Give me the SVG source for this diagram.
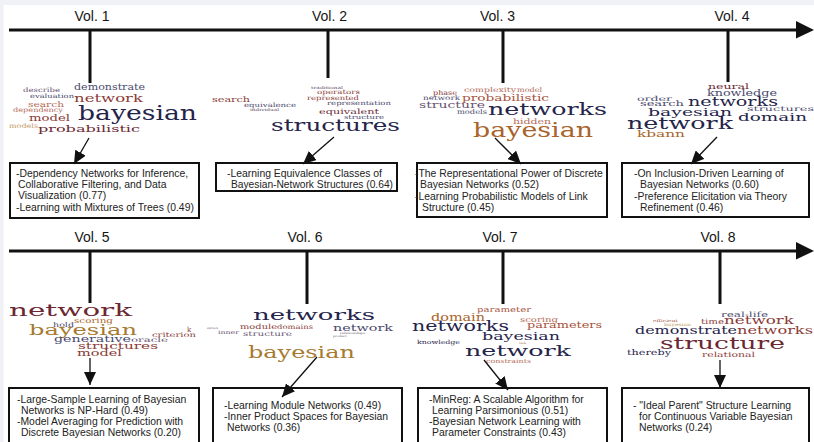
<svg xmlns="http://www.w3.org/2000/svg" width="814" height="442" viewBox="0 0 814 442">
  <style>
    .axis { stroke: #111; stroke-width: 3; fill: none; }
    .stem { stroke: #111; stroke-width: 3; }
    .tip { fill: #111; }
    .ptr { stroke: #111; stroke-width: 1.3; fill: none; marker-end: url(#head); }
    .box { fill: #fff; stroke: #111; stroke-width: 2; }
    .vol { font-family: "Liberation Sans", Arial, sans-serif; font-size: 14px; fill: #151515; text-anchor: middle; }
    .ref { font-family: "Liberation Sans", Arial, sans-serif; font-size: 10.4px; fill: #222; }
    .w { font-family: "DejaVu Serif", "Liberation Serif", serif; }
    .c1 { fill: #25244a; }
    .c2 { fill: #4a4a6c; }
    .c3 { fill: #6a5472; }
    .c4 { fill: #6b2832; }
    .c5 { fill: #8a3b36; }
    .c6 { fill: #a5523b; }
    .c7 { fill: #a9642c; }
    .c8 { fill: #a67a30; }
    .c9 { fill: #b46b57; }
    .c10 { fill: #bf9a66; }
  </style>
  <defs>
    <marker id="head" markerUnits="userSpaceOnUse" markerWidth="13" markerHeight="12" refX="13" refY="6" orient="auto">
      <path d="M0,0 L13,6 L0,12 z" fill="#111"/>
    </marker>
  </defs>

  <!-- page -->
  <rect x="0" y="0" width="814" height="442" fill="#f0f1f6"/>
  <rect x="3.5" y="5" width="811" height="437" fill="#fff"/>

  <!-- timelines -->
  <g id="timeline">
    <line class="axis" x1="9" y1="30" x2="797" y2="30"/>
    <polygon class="tip" points="796,21 814,30 796,38.5"/>
    <line class="axis" x1="9" y1="251" x2="797" y2="251"/>
    <polygon class="tip" points="796,242 814,251 796,259.5"/>
  </g>

  <!-- Vol. 1 -->
  <g id="vol1">
    <text class="vol" x="92" y="21">Vol. 1</text>
    <line class="stem" x1="90" y1="30" x2="90" y2="83"/>
    <text class="w c3" x="23" y="92" font-size="6.3" textLength="37" lengthAdjust="spacingAndGlyphs">describe</text>
    <text class="w c2" x="30" y="98" font-size="6" textLength="44" lengthAdjust="spacingAndGlyphs">evaluation</text>
    <text class="w c2" x="74" y="90" font-size="8.8" textLength="71" lengthAdjust="spacingAndGlyphs">demonstrate</text>
    <text class="w c5" x="74" y="101.5" font-size="10.5" textLength="69" lengthAdjust="spacingAndGlyphs">network</text>
    <text class="w c9" x="28" y="107" font-size="8" textLength="36" lengthAdjust="spacingAndGlyphs">search</text>
    <text class="w c9" x="13" y="112" font-size="6.4" textLength="50" lengthAdjust="spacingAndGlyphs">dependency</text>
    <text class="w c1" x="78" y="120" font-size="20.7" textLength="119" lengthAdjust="spacingAndGlyphs">bayesian</text>
    <text class="w c5" x="29" y="121" font-size="9.5" textLength="41" lengthAdjust="spacingAndGlyphs">model</text>
    <text class="w c10" x="9" y="128" font-size="6.4" textLength="29" lengthAdjust="spacingAndGlyphs">models</text>
    <text class="w c4" x="38" y="132" font-size="9.7" textLength="102" lengthAdjust="spacingAndGlyphs">probabilistic</text>
    <rect class="box" x="10" y="163" width="189" height="55"/>
    <text class="ref" x="16" y="177">-Dependency Networks for Inference,</text>
    <text class="ref" x="18" y="188">Collaborative Filtering, and Data</text>
    <text class="ref" x="18" y="199">Visualization (0.77)</text>
    <text class="ref" x="16" y="210.5">-Learning with Mixtures of Trees (0.49)</text>
  </g>

  <!-- Vol. 2 -->
  <g id="vol2">
    <text class="vol" x="329.5" y="21">Vol. 2</text>
    <line class="stem" x1="328" y1="30" x2="328" y2="78"/>
    <text class="w c3" x="311" y="89" font-size="4" textLength="32" lengthAdjust="spacingAndGlyphs">traditional</text>
    <text class="w c5" x="317" y="94" font-size="6.2" textLength="43" lengthAdjust="spacingAndGlyphs">operators</text>
    <text class="w c5" x="307" y="99.5" font-size="6.2" textLength="52" lengthAdjust="spacingAndGlyphs">represented</text>
    <text class="w c2" x="327" y="105" font-size="6" textLength="64" lengthAdjust="spacingAndGlyphs">representation</text>
    <text class="w c5" x="212" y="102" font-size="7.6" textLength="38" lengthAdjust="spacingAndGlyphs">search</text>
    <text class="w c2" x="244" y="107" font-size="6" textLength="52" lengthAdjust="spacingAndGlyphs">equivalence</text>
    <text class="w c3" x="250" y="111" font-size="4" textLength="29" lengthAdjust="spacingAndGlyphs">individual</text>
    <text class="w c4" x="319" y="114" font-size="7.2" textLength="60" lengthAdjust="spacingAndGlyphs">equivalent</text>
    <text class="w c2" x="344" y="119" font-size="5.8" textLength="40" lengthAdjust="spacingAndGlyphs">structure</text>
    <text class="w c1" x="271" y="131" font-size="17" textLength="129" lengthAdjust="spacingAndGlyphs">structures</text>
    <rect class="box" x="216" y="163" width="181" height="28"/>
    <text class="ref" x="227" y="177" textLength="155" lengthAdjust="spacingAndGlyphs">-Learning Equivalence Classes of</text>
    <text class="ref" x="231" y="188" textLength="162" lengthAdjust="spacingAndGlyphs">Bayesian-Network Structures (0.64)</text>
  </g>

  <!-- Vol. 3 -->
  <g id="vol3">
    <text class="vol" x="497.5" y="21">Vol. 3</text>
    <line class="stem" x1="503" y1="30" x2="503" y2="83"/>
    <text class="w c9" x="464" y="92" font-size="6.6" textLength="52" lengthAdjust="spacingAndGlyphs">complexity</text>
    <text class="w c9" x="517" y="92" font-size="6.6" textLength="25" lengthAdjust="spacingAndGlyphs">model</text>
    <text class="w c5" x="433" y="95" font-size="6.6" textLength="24" lengthAdjust="spacingAndGlyphs">phase</text>
    <text class="w c2" x="423" y="100" font-size="6.4" textLength="37" lengthAdjust="spacingAndGlyphs">network</text>
    <text class="w c6" x="462" y="101" font-size="8.8" textLength="87" lengthAdjust="spacingAndGlyphs">probabilistic</text>
    <text class="w c3" x="419" y="108" font-size="8.8" textLength="66" lengthAdjust="spacingAndGlyphs">structure</text>
    <text class="w c2" x="457" y="114" font-size="6.6" textLength="30" lengthAdjust="spacingAndGlyphs">models</text>
    <text class="w c1" x="488" y="114.5" font-size="16" textLength="119" lengthAdjust="spacingAndGlyphs">networks</text>
    <text class="w c9" x="513" y="123.5" font-size="7.6" textLength="38" lengthAdjust="spacingAndGlyphs">hidden</text>
    <text class="w c7" x="473" y="137" font-size="19.7" textLength="120" lengthAdjust="spacingAndGlyphs">bayesian</text>
    <rect class="box" x="417" y="163" width="190" height="54"/>
    <text class="ref" x="415" y="176.5">-The Representational Power of Discrete</text>
    <text class="ref" x="420" y="188">Bayesian Networks (0.52)</text>
    <text class="ref" x="415" y="200">-Learning Probabilistic Models of Link</text>
    <text class="ref" x="422" y="211">Structure (0.45)</text>
  </g>

  <!-- Vol. 4 -->
  <g id="vol4">
    <text class="vol" x="732" y="21">Vol. 4</text>
    <line class="stem" x1="728" y1="30" x2="728" y2="82"/>
    <text class="w c4" x="708" y="88.5" font-size="7.5" textLength="41" lengthAdjust="spacingAndGlyphs">neural</text>
    <text class="w c2" x="707" y="95.5" font-size="8.3" textLength="70" lengthAdjust="spacingAndGlyphs">knowledge</text>
    <text class="w c2" x="637" y="100.5" font-size="6.8" textLength="35" lengthAdjust="spacingAndGlyphs">order</text>
    <text class="w c2" x="640" y="106" font-size="7.5" textLength="44" lengthAdjust="spacingAndGlyphs">search</text>
    <text class="w c1" x="688" y="106" font-size="12.3" textLength="90" lengthAdjust="spacingAndGlyphs">networks</text>
    <text class="w c2" x="747" y="111" font-size="6.8" textLength="67" lengthAdjust="spacingAndGlyphs">structures</text>
    <text class="w c1" x="648" y="115.5" font-size="11.2" textLength="84" lengthAdjust="spacingAndGlyphs">bayesian</text>
    <text class="w c1" x="738" y="120.5" font-size="11.8" textLength="69" lengthAdjust="spacingAndGlyphs">domain</text>
    <text class="w c1" x="627" y="128.5" font-size="16.5" textLength="106" lengthAdjust="spacingAndGlyphs">network</text>
    <text class="w c7" x="637" y="136.5" font-size="8.8" textLength="48" lengthAdjust="spacingAndGlyphs">kbann</text>
    <rect class="box" x="622" y="163" width="187" height="54"/>
    <text class="ref" x="634" y="176.5">-On Inclusion-Driven Learning of</text>
    <text class="ref" x="640" y="188">Bayesian Networks (0.60)</text>
    <text class="ref" x="634" y="200">-Preference Elicitation via Theory</text>
    <text class="ref" x="640" y="211">Refinement (0.46)</text>
  </g>

  <!-- Vol. 5 -->
  <g id="vol5">
    <text class="vol" x="92" y="242">Vol. 5</text>
    <line class="stem" x1="90" y1="251" x2="90" y2="303"/>
    <text class="w c4" x="9" y="316" font-size="16.5" textLength="123" lengthAdjust="spacingAndGlyphs">network</text>
    <text class="w c2" x="53" y="327" font-size="6.6" textLength="21" lengthAdjust="spacingAndGlyphs">hold</text>
    <text class="w c7" x="74" y="323" font-size="7" textLength="39" lengthAdjust="spacingAndGlyphs">scoring</text>
    <text class="w c8" x="29" y="335" font-size="15.5" textLength="108" lengthAdjust="spacingAndGlyphs">bayesian</text>
    <text class="w c5" x="187" y="332" font-size="7">k</text>
    <text class="w c5" x="152" y="337" font-size="6.6" textLength="44" lengthAdjust="spacingAndGlyphs">criterion</text>
    <text class="w c2" x="54" y="342" font-size="8.5" textLength="77" lengthAdjust="spacingAndGlyphs">generative</text>
    <text class="w c3" x="131" y="342" font-size="6.6" textLength="37" lengthAdjust="spacingAndGlyphs">oracle</text>
    <text class="w c5" x="78" y="349" font-size="8.5" textLength="80" lengthAdjust="spacingAndGlyphs">structures</text>
    <text class="w c5" x="77" y="356" font-size="9" textLength="45" lengthAdjust="spacingAndGlyphs">model</text>
    <rect class="box" x="9" y="388" width="190" height="60"/>
    <text class="ref" x="17" y="402.5">-Large-Sample Learning of Bayesian</text>
    <text class="ref" x="21" y="413.5">Networks is NP-Hard (0.49)</text>
    <text class="ref" x="17" y="424.5">-Model Averaging for Prediction with</text>
    <text class="ref" x="21" y="436">Discrete Bayesian Networks (0.20)</text>
  </g>

  <!-- Vol. 6 -->
  <g id="vol6">
    <text class="vol" x="305" y="242">Vol. 6</text>
    <line class="stem" x1="307" y1="251" x2="307" y2="304"/>
    <text class="w c1" x="253" y="320" font-size="15" textLength="122" lengthAdjust="spacingAndGlyphs">networks</text>
    <text class="w c3" x="207" y="329" font-size="2.8" textLength="11" lengthAdjust="spacingAndGlyphs">approach</text>
    <text class="w c5" x="240" y="329" font-size="7" textLength="37" lengthAdjust="spacingAndGlyphs">module</text>
    <text class="w c5" x="277" y="328.5" font-size="6.4" textLength="36" lengthAdjust="spacingAndGlyphs">domains</text>
    <text class="w c2" x="333" y="331" font-size="9.5" textLength="60" lengthAdjust="spacingAndGlyphs">network</text>
    <text class="w c3" x="340" y="333.5" font-size="3" textLength="25" lengthAdjust="spacingAndGlyphs">relationships</text>
    <text class="w c3" x="333" y="336.5" font-size="3" textLength="14" lengthAdjust="spacingAndGlyphs">product</text>
    <text class="w c3" x="218" y="334" font-size="5.4" textLength="21" lengthAdjust="spacingAndGlyphs">inner</text>
    <text class="w c3" x="243" y="336" font-size="6.8" textLength="49" lengthAdjust="spacingAndGlyphs">structure</text>
    <text class="w c8" x="248" y="358" font-size="16" textLength="107" lengthAdjust="spacingAndGlyphs">bayesian</text>
    <rect class="box" x="213" y="388" width="189" height="60"/>
    <text class="ref" x="224" y="409">-Learning Module Networks (0.49)</text>
    <text class="ref" x="224" y="420">-Inner Product Spaces for Bayesian</text>
    <text class="ref" x="227" y="431">Networks (0.36)</text>
  </g>

  <!-- Vol. 7 -->
  <g id="vol7">
    <text class="vol" x="500" y="242">Vol. 7</text>
    <line class="stem" x1="503" y1="251" x2="503" y2="304"/>
    <text class="w c6" x="477" y="312" font-size="7.4" textLength="54" lengthAdjust="spacingAndGlyphs">parameter</text>
    <text class="w c7" x="431" y="321" font-size="10.5" textLength="54" lengthAdjust="spacingAndGlyphs">domain</text>
    <text class="w c9" x="520" y="322" font-size="7" textLength="38" lengthAdjust="spacingAndGlyphs">scoring</text>
    <text class="w c1" x="412" y="331" font-size="14" textLength="97" lengthAdjust="spacingAndGlyphs">networks</text>
    <text class="w c6" x="527" y="328" font-size="8.5" textLength="75" lengthAdjust="spacingAndGlyphs">parameters</text>
    <text class="w c1" x="482" y="340" font-size="11" textLength="78" lengthAdjust="spacingAndGlyphs">bayesian</text>
    <text class="w c1" x="417" y="344" font-size="5.6" textLength="43" lengthAdjust="spacingAndGlyphs">knowledge</text>
    <text class="w c9" x="519" y="344" font-size="3" textLength="7" lengthAdjust="spacingAndGlyphs">task</text>
    <text class="w c1" x="465" y="356" font-size="15.5" textLength="106" lengthAdjust="spacingAndGlyphs">network</text>
    <text class="w c9" x="486" y="363" font-size="5.8" textLength="45" lengthAdjust="spacingAndGlyphs">constraints</text>
    <rect class="box" x="418" y="388" width="189" height="60"/>
    <text class="ref" x="429" y="403">-MinReg: A Scalable Algorithm for</text>
    <text class="ref" x="432" y="414">Learning Parsimonious (0.51)</text>
    <text class="ref" x="429" y="425">-Bayesian Network Learning with</text>
    <text class="ref" x="432" y="436">Parameter Constraints (0.43)</text>
  </g>

  <!-- Vol. 8 -->
  <g id="vol8">
    <text class="vol" x="718" y="242">Vol. 8</text>
    <line class="stem" x1="720" y1="251" x2="720" y2="304"/>
    <text class="w c2" x="721" y="317" font-size="7.4" textLength="47" lengthAdjust="spacingAndGlyphs">real-life</text>
    <text class="w c6" x="653" y="322" font-size="3.6" textLength="25" lengthAdjust="spacingAndGlyphs">efficient</text>
    <text class="w c10" x="664" y="326" font-size="4.2" textLength="27" lengthAdjust="spacingAndGlyphs">bayesian</text>
    <text class="w c5" x="701" y="324" font-size="7.4" textLength="23" lengthAdjust="spacingAndGlyphs">time</text>
    <text class="w c5" x="724" y="324" font-size="10.5" textLength="70" lengthAdjust="spacingAndGlyphs">network</text>
    <text class="w c1" x="635" y="334" font-size="11.5" textLength="102" lengthAdjust="spacingAndGlyphs">demonstrate</text>
    <text class="w c5" x="737" y="334" font-size="11.5" textLength="76" lengthAdjust="spacingAndGlyphs">networks</text>
    <text class="w c4" x="660" y="349" font-size="17" textLength="125" lengthAdjust="spacingAndGlyphs">structure</text>
    <text class="w c1" x="627" y="355" font-size="7.8" textLength="44" lengthAdjust="spacingAndGlyphs">thereby</text>
    <text class="w c5" x="702" y="357" font-size="7" textLength="53" lengthAdjust="spacingAndGlyphs">relational</text>
    <rect class="box" x="622" y="388" width="187" height="60"/>
    <text class="ref" x="633" y="409">- "Ideal Parent" Structure Learning</text>
    <text class="ref" x="639" y="420">for Continuous Variable Bayesian</text>
    <text class="ref" x="639" y="431">Networks (0.24)</text>
  </g>

  <!-- pointers from each word cloud to its paper list -->
  <g id="connectors">
    <line class="ptr" x1="89" y1="138" x2="74" y2="164"/>
    <line class="ptr" x1="334" y1="137" x2="303" y2="164"/>
    <line class="ptr" x1="495" y1="138" x2="521" y2="164"/>
    <line class="ptr" x1="717" y1="137" x2="691" y2="164"/>
    <line class="ptr" x1="90" y1="358" x2="90" y2="385"/>
    <line class="ptr" x1="317" y1="357" x2="282" y2="397"/>
    <line class="ptr" x1="484" y1="360" x2="508" y2="390"/>
    <line class="ptr" x1="720" y1="360" x2="720" y2="388"/>
  </g>
</svg>
